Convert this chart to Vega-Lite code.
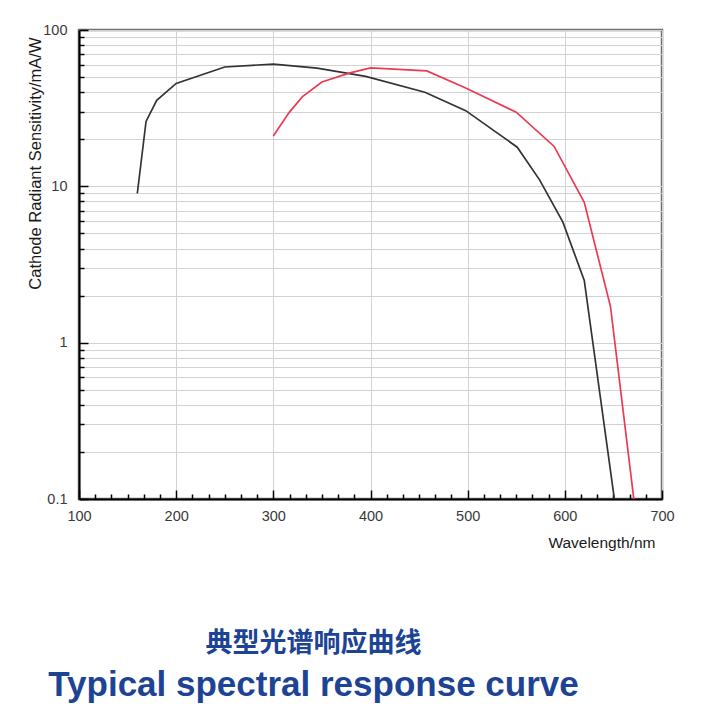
{
  "$schema": "https://vega.github.io/schema/vega-lite/v6.json",
  "autosize": {"type": "none"},
  "padding": {"left": 79, "top": 30, "right": 53, "bottom": 214},
  "width": 583,
  "height": 469,
  "background": "white",
  "title": {
    "text": "典型光谱响应曲线",
    "subtitle": "Typical spectral response curve",
    "orient": "bottom",
    "anchor": "middle",
    "frame": "group",
    "dx": -57,
    "offset": 80,
    "font": "Noto Sans CJK SC",
    "fontSize": 27,
    "fontWeight": "bold",
    "color": "#1d4394",
    "subtitleFont": "Liberation Sans",
    "subtitleFontSize": 35,
    "subtitleFontWeight": "bold",
    "subtitleColor": "#1d4394",
    "subtitlePadding": 10
  },
  "data": {
    "values": [
      {"series": "black", "wavelength": 160, "sensitivity": 9},
      {"series": "black", "wavelength": 169, "sensitivity": 26},
      {"series": "black", "wavelength": 180, "sensitivity": 35.5},
      {"series": "black", "wavelength": 200, "sensitivity": 45.5},
      {"series": "black", "wavelength": 250, "sensitivity": 58},
      {"series": "black", "wavelength": 300, "sensitivity": 60.5},
      {"series": "black", "wavelength": 345, "sensitivity": 57},
      {"series": "black", "wavelength": 395, "sensitivity": 50.5},
      {"series": "black", "wavelength": 456, "sensitivity": 40},
      {"series": "black", "wavelength": 498, "sensitivity": 30.5},
      {"series": "black", "wavelength": 551, "sensitivity": 17.8},
      {"series": "black", "wavelength": 574, "sensitivity": 11},
      {"series": "black", "wavelength": 598, "sensitivity": 5.9},
      {"series": "black", "wavelength": 620, "sensitivity": 2.5},
      {"series": "black", "wavelength": 651, "sensitivity": 0.1},
      {"series": "red", "wavelength": 300, "sensitivity": 21},
      {"series": "red", "wavelength": 316, "sensitivity": 29.5},
      {"series": "red", "wavelength": 330, "sensitivity": 37.5},
      {"series": "red", "wavelength": 350, "sensitivity": 46.5},
      {"series": "red", "wavelength": 378, "sensitivity": 53},
      {"series": "red", "wavelength": 400, "sensitivity": 57.2},
      {"series": "red", "wavelength": 458, "sensitivity": 54.7},
      {"series": "red", "wavelength": 498, "sensitivity": 42.6},
      {"series": "red", "wavelength": 550, "sensitivity": 29.8},
      {"series": "red", "wavelength": 589, "sensitivity": 18},
      {"series": "red", "wavelength": 620, "sensitivity": 7.9},
      {"series": "red", "wavelength": 647, "sensitivity": 1.7},
      {"series": "red", "wavelength": 671, "sensitivity": 0.1}
    ]
  },
  "layer": [
    {
      "transform": [{"filter": "datum.series === 'black'"}],
      "mark": {"type": "line", "color": "#333333", "strokeWidth": 1.7, "clip": true},
      "encoding": {
        "x": {
          "field": "wavelength", "type": "quantitative",
          "scale": {"domain": [100, 700], "nice": false, "zero": false},
          "axis": {
            "orient": "bottom",
            "values": [100, 200, 300, 400, 500, 600, 700],
            "labelFlush": false,
            "title": "Wavelength/nm",
            "titleAnchor": "end", "titleAlign": "right", "titleX": 576, "titleY": 43,
            "titleBaseline": "middle", "titleFontSize": 15.5,
            "tickSize": -9, "labelPadding": 19
          }
        },
        "y": {
          "field": "sensitivity", "type": "quantitative",
          "scale": {"type": "log", "domain": [0.1, 100], "nice": false},
          "axis": {
            "orient": "left",
            "values": [0.1, 1, 10, 100], "format": "~g",
            "labelFlush": false,
            "title": "Cathode Radiant Sensitivity/mA/W",
            "titleAnchor": "end", "titleAlign": "right", "titleAngle": -90,
            "titleX": -39, "titleY": 7, "titleBaseline": "alphabetic", "titleFontSize": 16.5,
            "tickSize": -9, "labelPadding": 21
          }
        }
      }
    },
    {
      "transform": [{"filter": "datum.series === 'red'"}],
      "mark": {"type": "line", "color": "#ec3a52", "strokeWidth": 1.7, "clip": true},
      "encoding": {
        "x": {
          "field": "wavelength", "type": "quantitative",
          "axis": {
            "orient": "bottom",
            "values": [116.67, 133.33, 150, 166.67, 183.33, 216.67, 233.33, 250, 266.67, 283.33, 316.67, 333.33, 350, 366.67, 383.33, 416.67, 433.33, 450, 466.67, 483.33, 516.67, 533.33, 550, 566.67, 583.33, 616.67, 633.33, 650, 666.67, 683.33],
            "labels": false, "domain": false, "grid": false, "title": null,
            "tickSize": -5
          }
        },
        "y": {
          "field": "sensitivity", "type": "quantitative",
          "axis": {
            "orient": "left",
            "values": [0.2, 0.3, 0.4, 0.5, 0.6, 0.7, 0.8, 0.9, 2, 3, 4, 5, 6, 7, 8, 9, 20, 30, 40, 50, 60, 70, 80, 90],
            "labels": false, "domain": false, "grid": true, "title": null,
            "tickSize": -5
          }
        }
      }
    }
  ],
  "resolve": {"axis": {"x": "independent", "y": "independent"}},
  "config": {
    "view": {"stroke": "#707070", "strokeWidth": 2.5},
    "axis": {
      "domainColor": "#000000", "domainWidth": 2,
      "tickColor": "#000000", "tickWidth": 1.5,
      "gridColor": "#d2d2d2", "gridWidth": 1,
      "labelFont": "Liberation Sans", "labelFontSize": 14.5, "labelColor": "#3a3a3a",
      "titleFont": "Liberation Sans", "titleFontSize": 14, "titleFontWeight": "normal", "titleColor": "#1a1a1a"
    }
  }
}
